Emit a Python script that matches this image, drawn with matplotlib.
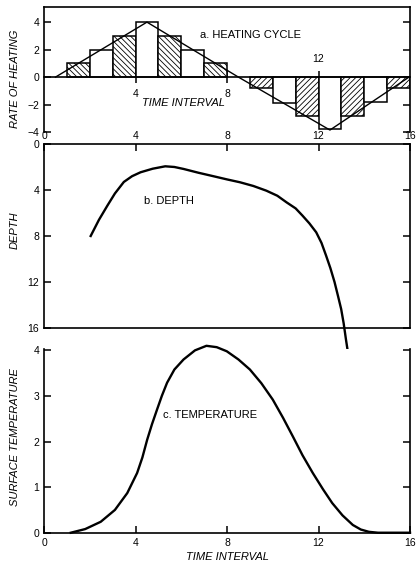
import matplotlib.pyplot as plt

plt.rcParams['font.family'] = 'Liberation Sans'
plt.rcParams['font.size'] = 7
plt.rcParams['hatch.linewidth'] = 0.6

# a. heating cycle: stepped rates per time interval
bar_start = [1, 2, 3, 4, 5, 6, 7, 9, 10, 11, 12, 13, 14, 15]
rates = [1, 2, 3, 4, 3, 2, 1, -0.8, -1.85, -2.8, -3.75, -2.8, -1.8, -0.8]
hatched = [True, False, True, False, True, False, True,
           True, False, True, False, True, False, True]
cycle_x = [0.5, 4.5, 8.5, 12.5, 16.0]
cycle_y = [0, 4, 0, -3.85, 0.05]

# b. depth
depth_x = [2.04, 2.4, 2.77, 3.1, 3.49, 3.85, 4.22, 4.75, 5.3, 5.7, 6.1, 6.75, 7.4,
           8.0, 8.57, 9.15, 9.72, 10.2, 10.6, 11.0, 11.3, 11.6, 11.9, 12.13, 12.33,
           12.52, 12.7, 12.85, 12.99, 13.1, 13.2, 13.3]
depth = [8.0, 6.6, 5.36, 4.3, 3.3, 2.8, 2.46, 2.15, 1.94, 2.0, 2.17, 2.5, 2.8,
         3.08, 3.33, 3.65, 4.06, 4.5, 5.07, 5.6, 6.23, 6.9, 7.68, 8.6, 9.7,
         10.8, 12.0, 13.2, 14.35, 15.6, 17.0, 18.3]

# c. surface temperature
temp_x = [1.17, 1.8, 2.48, 3.1, 3.64, 4.07, 4.3, 4.51, 4.72, 4.94, 5.15, 5.38, 5.7,
          6.1, 6.6, 7.1, 7.55, 7.99, 8.5, 9.0, 9.5, 10.0, 10.45, 10.88, 11.3, 11.75,
          12.2, 12.6, 13.05, 13.5, 13.85, 14.2, 14.6, 16.0]
temp = [0.0, 0.08, 0.24, 0.5, 0.87, 1.31, 1.65, 2.04, 2.38, 2.7, 3.0, 3.29, 3.58,
        3.8, 4.0, 4.1, 4.07, 3.98, 3.8, 3.58, 3.28, 2.92, 2.52, 2.11, 1.7, 1.31,
        0.95, 0.65, 0.38, 0.17, 0.07, 0.02, 0.0, 0.0]

fig = plt.figure(figsize=(4.16, 5.66), dpi=100)
ax1 = fig.add_axes([0.1058, 0.7666, 0.8798, 0.2210])
ax2 = fig.add_axes([0.1058, 0.4205, 0.8798, 0.3251])
ax3 = fig.add_axes([0.1058, 0.0588, 0.8798, 0.3246])

lab = dict(fontstyle='italic', fontsize=8)

for ax in (ax1, ax2, ax3):
    ax.set_xlim(0, 16)
    for s in ax.spines.values():
        s.set_linewidth(1.2)
    ax.tick_params(direction='in', length=5, width=1.1, right=True, labelsize=7.5)

# panel a
for x0, r, h in zip(bar_start, rates, hatched):
    pat = None
    if h:
        pat = '\\\\\\\\\\\\' if r > 0 else '//////'
    ax1.bar(x0, r, width=1, align='edge', facecolor='white', edgecolor='black',
            linewidth=1.1, hatch=pat, zorder=2)
ax1.plot(cycle_x, cycle_y, color='black', linewidth=1.0, zorder=3)
ax1.set_ylim(-4, 5.1)
ax1.set_yticks([-4, -2, 0, 2, 4])
ax1.spines['bottom'].set_position(('data', 0))
ax1.spines['bottom'].set_zorder(4)
ax1.set_xticks([4, 8, 12])
ax1.set_xticklabels(['4', '8', ''])
ax1.tick_params(axis='x', direction='inout', length=9, pad=4)
ax1.text(12, 1.3, '12', ha='center', va='center', fontsize=7.5)
ax1.text(6.83, 3.1, 'a. HEATING CYCLE', fontsize=8, va='center')
ax1.text(6.1, -1.9, 'TIME INTERVAL', ha='center', va='center', **lab)
ax1.set_ylabel('RATE OF HEATING', **lab)
ax1.yaxis.set_label_coords(-0.066, 0.43)

# panel b
ax2.plot(depth_x, depth, color='black', linewidth=1.7, clip_on=False, zorder=5)
ax2.set_ylim(16, 0)
ax2.set_yticks([0, 4, 8, 12, 16])
ax2.set_xticks([0, 4, 8, 12, 16])
ax2.tick_params(axis='x', top=True, bottom=False, labeltop=True, labelbottom=False, pad=2)
ax2.text(4.35, 4.96, 'b. DEPTH', fontsize=8, va='center')
ax2.set_ylabel('DEPTH', **lab)
ax2.yaxis.set_label_coords(-0.066, 0.53)

# panel c
ax3.plot(temp_x, temp, color='black', linewidth=1.7, clip_on=False)
ax3.set_ylim(0, 4.03)
ax3.set_yticks([0, 1, 2, 3, 4])
ax3.set_xticks([0, 4, 8, 12, 16])
ax3.spines['top'].set_visible(False)
ax3.text(5.2, 2.59, 'c. TEMPERATURE', fontsize=8, va='center')
ax3.set_ylabel('SURFACE TEMPERATURE', **lab)
ax3.yaxis.set_label_coords(-0.066, 0.52)
ax3.set_xlabel('TIME INTERVAL', labelpad=3, **lab)

fig.savefig('out.png', dpi=100)
